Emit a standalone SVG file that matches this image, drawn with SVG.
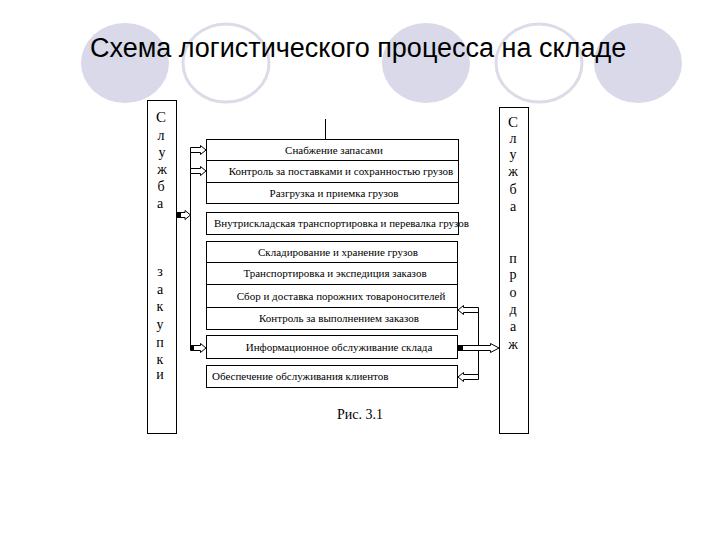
<svg xmlns="http://www.w3.org/2000/svg" width="720" height="540" viewBox="0 0 720 540">
<style>
.bg{fill:#ffffff}
.cf{fill:#d9d9ea;stroke:none}
.co{fill:none;stroke:#dcdce8;stroke-width:3}
.title{font-family:"Liberation Sans",Arial,sans-serif;font-size:27px;fill:#000}
.box{fill:#fff;stroke:#000;stroke-width:1}
.ln{fill:none;stroke:#000;stroke-width:1}
.t{font-family:"Liberation Serif","Times New Roman",serif;font-size:11px;fill:#000}
.m{text-anchor:middle}
.v{font-family:"Liberation Serif","Times New Roman",serif;font-size:14px;fill:#000;text-anchor:middle}
.arr{fill:#fff;stroke:#000;stroke-width:1}
.blk{fill:#000}
</style>
<rect class="bg" x="0" y="0" width="720" height="540"/>
<g id="decor">
<ellipse class="cf" cx="125" cy="63" rx="44" ry="40"/>
<ellipse class="co" cx="226" cy="63" rx="43" ry="39"/>
<ellipse class="cf" cx="426" cy="63" rx="44" ry="40"/>
<ellipse class="co" cx="539" cy="63" rx="43" ry="39"/>
<ellipse class="cf" cx="638" cy="63" rx="44" ry="40"/>
</g>
<text class="title" x="90" y="57">Схема логистического процесса на складе</text>

<g id="left-service">
<rect class="box" x="147.5" y="100.5" width="29" height="333"/>
<text class="v" x="161" y="122" style="font-size:15px">С</text>
<text class="v" x="161" y="140">л</text>
<text class="v" x="162" y="157">у</text>
<text class="v" x="162" y="174">ж</text>
<text class="v" x="161" y="191">б</text>
<text class="v" x="160" y="208">а</text>
<text class="v" x="160" y="276">з</text>
<text class="v" x="160" y="294">а</text>
<text class="v" x="160" y="311">к</text>
<text class="v" x="160" y="329">у</text>
<text class="v" x="160" y="347">п</text>
<text class="v" x="160" y="364">к</text>
<text class="v" x="160" y="379">и</text>
</g>

<g id="right-service">
<rect class="box" x="499.5" y="107.5" width="29" height="326"/>
<text class="v" x="513" y="127" style="font-size:15px">С</text>
<text class="v" x="513" y="143">л</text>
<text class="v" x="513" y="159">у</text>
<text class="v" x="513" y="176">ж</text>
<text class="v" x="513" y="194">б</text>
<text class="v" x="513" y="211">а</text>
<text class="v" x="513" y="263">п</text>
<text class="v" x="513" y="279">р</text>
<text class="v" x="513" y="297">о</text>
<text class="v" x="513" y="314">д</text>
<text class="v" x="513" y="331">а</text>
<text class="v" x="513" y="349">ж</text>
</g>

<g id="block-receiving">
<rect class="box" x="206.5" y="139.5" width="252" height="64"/>
<line class="ln" x1="206.5" y1="160.5" x2="458.5" y2="160.5"/>
<line class="ln" x1="206.5" y1="182.5" x2="458.5" y2="182.5"/>
<text class="t m" x="334" y="154">Снабжение запасами</text>
<text class="t m" x="341" y="175">Контроль за поставками и сохранностью грузов</text>
<text class="t m" x="334" y="197">Разгрузка и приемка грузов</text>
</g>

<g id="block-internal">
<rect class="box" x="206.5" y="212.5" width="252" height="22"/>
<text class="t" x="214" y="227">Внутрискладская транспортировка и перевалка грузов</text>
</g>

<g id="block-storage">
<rect class="box" x="206.5" y="241.5" width="251" height="88"/>
<line class="ln" x1="206.5" y1="262.5" x2="457.5" y2="262.5"/>
<line class="ln" x1="206.5" y1="284.5" x2="457.5" y2="284.5"/>
<line class="ln" x1="206.5" y1="307.5" x2="457.5" y2="307.5"/>
<text class="t m" x="338" y="256">Складирование и хранение грузов</text>
<text class="t m" x="335" y="277">Транспортировка и экспедиция заказов</text>
<text class="t m" x="341" y="300">Сбор и доставка порожних товароносителей</text>
<text class="t m" x="339" y="322">Контроль за выполнением заказов</text>
</g>

<g id="block-info">
<rect class="box" x="206.5" y="335.5" width="251" height="23"/>
<text class="t m" x="339" y="351">Информационное обслуживание склада</text>
</g>

<g id="block-clients">
<rect class="box" x="206.5" y="365.5" width="251" height="22"/>
<text class="t" x="212" y="380">Обеспечение обслуживания клиентов</text>
</g>

<g id="connectors">
<line class="ln" x1="325.5" y1="119" x2="325.5" y2="139.5"/>
<line class="ln" x1="190.5" y1="148" x2="190.5" y2="350"/>
<line class="ln" x1="478.5" y1="308" x2="478.5" y2="379"/>
<path class="arr" d="M190.5,147.5 H200.5 V145.5 L206,150 L200.5,154.5 V152.5 H190.5 Z"/>
<path class="arr" d="M190.5,168.5 H200.5 V166.5 L206,171 L200.5,175.5 V173.5 H190.5 Z"/>
<path class="arr" d="M176.5,212.5 H185 V210.5 L190.5,215 L185,219.5 V217.5 H176.5 Z"/>
<rect class="blk" x="177" y="212.5" width="4" height="5"/>
<path class="arr" d="M190.5,345.5 H200.5 V343.5 L206,348 L200.5,352.5 V350.5 H190.5 Z"/>
<rect class="blk" x="191" y="345.5" width="3" height="5"/>
<path class="arr" d="M478.5,307.5 H463.5 V305.5 L458,310 L463.5,314.5 V312.5 H478.5 Z"/>
<path class="arr" d="M478.5,374.5 H463.5 V372.5 L458,377 L463.5,381.5 V379.5 H478.5 Z"/>
<path class="arr" d="M458,345.5 H490.5 V343.5 L499,348 L490.5,352.5 V350.5 H458 Z"/>
<rect class="blk" x="458" y="345.5" width="5" height="5"/>
</g>

<text x="360" y="419" style="font-family:'Liberation Serif','Times New Roman',serif;font-size:14px;text-anchor:middle">Рис. 3.1</text>
</svg>
